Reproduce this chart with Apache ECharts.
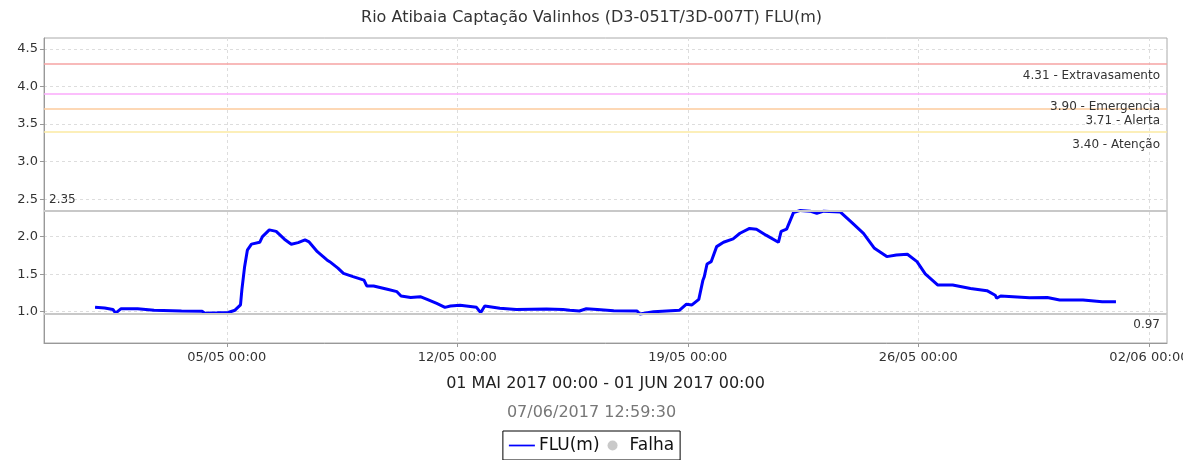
<!DOCTYPE html>
<html>
<head>
<meta charset="utf-8">
<script src="https://cdn.jsdelivr.net/npm/echarts@6/dist/echarts.min.js"></script>
<style>
  html, body { margin: 0; padding: 0; background: #fff; }
  #grafico { width: 1183px; height: 460px; }
</style>
</head>
<body>
<div id="grafico"></div>
<script>
var titulo = "Rio Atibaia Captação Valinhos (D3-051T/3D-007T) FLU(m)";
var periodo = "01 MAI 2017 00:00 - 01 JUN 2017 00:00";
var geradoEm = "07/06/2017 12:59:30";

// leituras FLU(m)
var horarios = [
  "2017-05-01 00:00", "2017-05-01 07:00", "2017-05-01 13:00", "2017-05-01 15:00", "2017-05-01 19:00",
  "2017-05-02 07:00", "2017-05-02 19:00", "2017-05-03 15:00", "2017-05-04 06:00", "2017-05-04 08:00",
  "2017-05-04 17:00", "2017-05-05 01:00", "2017-05-05 06:00", "2017-05-05 10:00", "2017-05-05 11:00",
  "2017-05-05 13:00", "2017-05-05 15:00", "2017-05-05 18:00", "2017-05-06 00:00", "2017-05-06 02:00",
  "2017-05-06 07:00", "2017-05-06 12:00", "2017-05-06 18:00", "2017-05-06 23:00", "2017-05-07 04:00",
  "2017-05-07 09:00", "2017-05-07 12:00", "2017-05-07 18:00", "2017-05-08 01:00", "2017-05-08 03:00",
  "2017-05-08 09:00", "2017-05-08 13:00", "2017-05-08 20:00", "2017-05-09 04:00", "2017-05-09 06:00",
  "2017-05-09 11:00", "2017-05-09 21:00", "2017-05-10 04:00", "2017-05-10 07:00", "2017-05-10 14:00",
  "2017-05-10 21:00", "2017-05-11 02:00", "2017-05-11 09:00", "2017-05-11 15:00", "2017-05-11 19:00",
  "2017-05-12 02:00", "2017-05-12 14:00", "2017-05-12 17:00", "2017-05-12 20:00", "2017-05-13 07:00",
  "2017-05-13 19:00", "2017-05-14 17:00", "2017-05-15 05:00", "2017-05-15 10:00", "2017-05-15 17:00",
  "2017-05-15 22:00", "2017-05-16 06:00", "2017-05-16 18:00", "2017-05-17 11:00", "2017-05-17 13:00",
  "2017-05-17 23:00", "2017-05-18 18:00", "2017-05-18 23:00", "2017-05-19 03:00", "2017-05-19 08:00",
  "2017-05-19 11:00", "2017-05-19 12:00", "2017-05-19 14:00", "2017-05-19 17:00", "2017-05-19 21:00",
  "2017-05-20 02:00", "2017-05-20 09:00", "2017-05-20 14:00", "2017-05-20 21:00", "2017-05-21 02:00",
  "2017-05-21 09:00", "2017-05-21 18:00", "2017-05-21 20:00", "2017-05-22 00:00", "2017-05-22 05:00",
  "2017-05-22 10:00", "2017-05-22 17:00", "2017-05-22 22:00", "2017-05-23 03:00", "2017-05-23 15:00",
  "2017-05-24 00:00", "2017-05-24 08:00", "2017-05-24 16:00", "2017-05-25 01:00", "2017-05-25 08:00",
  "2017-05-25 16:00", "2017-05-25 23:00", "2017-05-26 05:00", "2017-05-26 14:00", "2017-05-27 01:00",
  "2017-05-27 14:00", "2017-05-28 02:00", "2017-05-28 08:00", "2017-05-28 09:00", "2017-05-28 12:00",
  "2017-05-29 09:00", "2017-05-29 22:00", "2017-05-30 07:00", "2017-05-31 00:00", "2017-05-31 14:00",
  "2017-05-31 15:00", "2017-06-01 00:00"
];
var niveis = [
  1.06, 1.05, 1.03, 0.98, 1.04,
  1.04, 1.02, 1.01, 1.005, 0.98,
  0.985, 0.99, 1.02, 1.09, 1.29,
  1.60, 1.82, 1.90, 1.925, 2.00,
  2.09, 2.07, 1.966, 1.90, 1.92,
  1.956, 1.93, 1.80, 1.69, 1.667,
  1.58, 1.51, 1.467, 1.42, 1.343,
  1.343, 1.30, 1.267, 1.21, 1.19,
  1.20, 1.165, 1.11, 1.058, 1.076,
  1.085, 1.058, 0.987, 1.076, 1.045,
  1.03, 1.036, 1.03, 1.02, 1.01,
  1.04, 1.03, 1.013, 1.01, 0.97,
  1.00, 1.02, 1.10, 1.09, 1.165,
  1.42, 1.467, 1.636, 1.667, 1.867,
  1.925, 1.97, 2.045, 2.11, 2.10,
  2.02, 1.925, 2.07, 2.10, 2.32,
  2.35, 2.34, 2.31, 2.34, 2.33,
  2.18, 2.045, 1.845, 1.734, 1.756,
  1.765, 1.667, 1.503, 1.356, 1.356,
  1.31, 1.28, 1.22, 1.18, 1.21,
  1.187, 1.19, 1.156, 1.156, 1.133,
  1.11, 1.133
];

// cotas de referencia
var cotas = [4.31, 3.90, 3.71, 3.40];
var cotasNome = ["Extravasamento", "Emergencia", "Alerta", "Atenção"];
var cotasCor = ["#f6a3a3", "#fbaafb", "#fdcb9c", "#fbeaa2"];

var yTicks = [1.0, 1.5, 2.0, 2.5, 3.0, 3.5, 4.0, 4.5];
var xTicks = ["2017-05-05 00:00", "2017-05-12 00:00", "2017-05-19 00:00", "2017-05-26 00:00", "2017-06-02 00:00"];

function paraMs(s) {
  var p = s.split(/[- :]/);
  return Date.UTC(+p[0], +p[1] - 1, +p[2], +p[3], +p[4]);
}
function dois(n) { return (n < 10 ? "0" : "") + n; }

var inicio = paraMs(horarios[0]);
var fim = paraMs(horarios[horarios.length - 1]);
var margem = (fim - inicio) * 0.05;

var pontos = horarios.map(function (h, i) { return [paraMs(h), niveis[i]]; });

var linhasCota = cotas.map(function (v, i) {
  return {
    yAxis: v,
    lineStyle: { color: cotasCor[i], width: 1.5, type: "solid" },
    label: {
      show: true,
      position: "insideEndBottom",
      formatter: v.toFixed(2) + " - " + cotasNome[i],
      color: "#333",
      fontSize: 12,
      distance: [7, 7]
    }
  };
});
linhasCota.push({
  type: "max",
  lineStyle: { color: "#c8c8c8", width: 2, type: "solid" },
  label: { show: true, position: "insideStartTop", color: "#333", fontSize: 12,
    formatter: function (p) { return p.value.toFixed(2); } }
});
linhasCota.push({
  type: "min",
  lineStyle: { color: "#c8c8c8", width: 2, type: "solid" },
  label: { show: true, position: "insideEndBottom", color: "#333", fontSize: 12,
    distance: [7, 5],
    formatter: function (p) { return p.value.toFixed(2); } }
});

var chart = echarts.init(document.getElementById("grafico"));
chart.setOption({
  animation: false,
  backgroundColor: "#fff",
  textStyle: { fontFamily: "DejaVu Sans" },
  title: [
    { text: titulo, left: "center", top: 10, padding: 0,
      textStyle: { fontSize: 16, fontWeight: "normal", color: "#333" } },
    { text: geradoEm, left: "center", top: 405, padding: 0,
      textStyle: { fontSize: 16, fontWeight: "normal", color: "#777" } }
  ],
  legend: {
    bottom: 0,
    left: "center",
    data: [
      { name: "FLU(m)", icon: "path://M0,4 L30,4 L30,6 L0,6 Z" },
      { name: "Falha", icon: "circle" }
    ],
    itemWidth: 26,
    itemHeight: 10,
    itemGap: 8,
    padding: [6, 6],
    borderColor: "#000",
    borderWidth: 1,
    borderRadius: 0,
    textStyle: { fontSize: 17, color: "#111", padding: [0, 0, 0, -1] }
  },
  grid: {
    left: 44, right: 16, top: 38, bottom: 117,
    show: true, borderColor: "#aaa", borderWidth: 1,
    containLabel: false, outerBoundsMode: "none"
  },
  xAxis: {
    type: "value",
    min: inicio - margem,
    max: fim + margem,
    name: periodo,
    nameLocation: "middle",
    nameGap: 33,
    nameTextStyle: { fontSize: 16, color: "#222" },
    axisLine: { show: true, lineStyle: { color: "#999" } },
    axisTick: { show: true, length: 4, lineStyle: { color: "#999" },
      customValues: xTicks.map(paraMs) },
    axisLabel: {
      customValues: xTicks.map(paraMs),
      fontSize: 13, color: "#333", margin: 8,
      formatter: function (v) {
        var d = new Date(v);
        return dois(d.getUTCDate()) + "/" + dois(d.getUTCMonth() + 1) + " " +
          dois(d.getUTCHours()) + ":" + dois(d.getUTCMinutes());
      }
    },
    splitLine: { show: true, lineStyle: { color: "#ddd", type: [3, 3] } }
  },
  yAxis: {
    type: "value",
    min: 0.583,
    max: 4.647,
    axisLine: { show: true, lineStyle: { color: "#999" } },
    axisTick: { show: true, length: 4, lineStyle: { color: "#999" }, customValues: yTicks },
    axisLabel: {
      customValues: yTicks,
      fontSize: 13, color: "#333", margin: 6,
      formatter: function (v) { return v.toFixed(1); }
    },
    splitLine: { show: true, lineStyle: { color: "#ddd", type: [3, 3] } }
  },
  series: [
    {
      name: "FLU(m)",
      type: "line",
      data: pontos,
      symbol: "none",
      color: "#0000ff",
      lineStyle: { color: "#0000ff", width: 3 },
      markLine: {
        silent: true,
        symbol: ["none", "none"],
        animation: false,
        data: linhasCota
      },
      z: 3
    },
    {
      name: "Falha",
      type: "scatter",
      data: [],
      color: "#bbb"
    }
  ]
});
window.onresize = function () { chart.resize(); };
</script>
</body>
</html>
